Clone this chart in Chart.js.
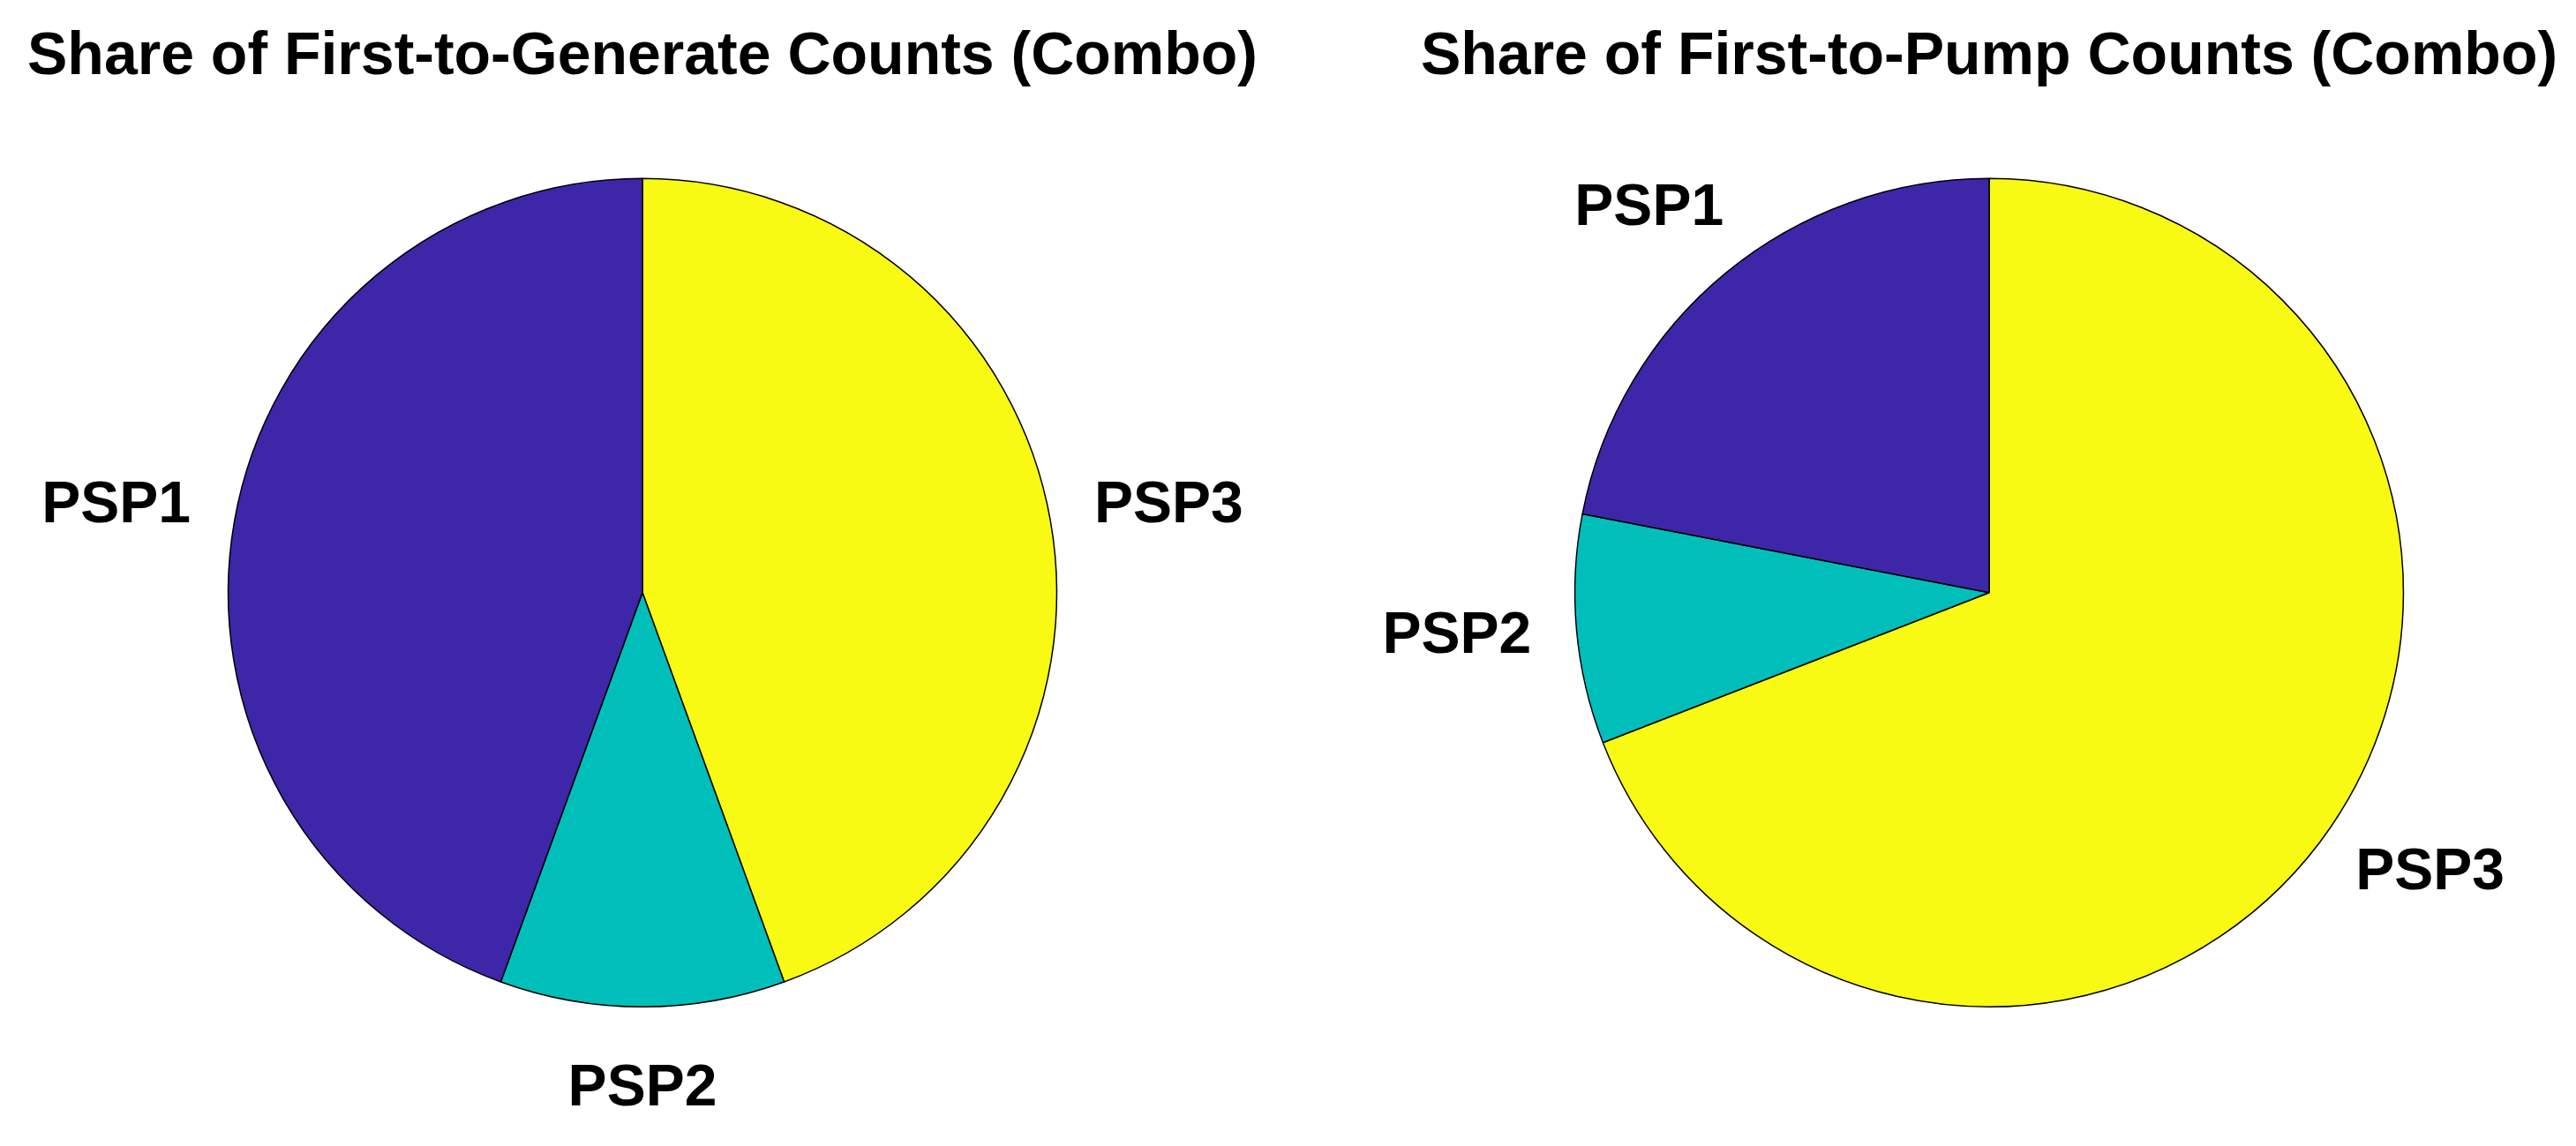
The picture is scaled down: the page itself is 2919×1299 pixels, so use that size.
<!DOCTYPE html>
<html>
<head>
<meta charset="utf-8">
<script src="https://cdn.jsdelivr.net/npm/chart.js@4.4.1/dist/chart.umd.min.js"></script>
<style>
    html, body { margin: 0; padding: 0; background: #ffffff; }
    body { width: 2919px; height: 1299px; position: relative; overflow: hidden; }
    canvas { position: absolute; top: 0; }
    #generateChart { left: 0px; }
    #pumpChart { left: 1460px; }
</style>
</head>
<body>
<canvas id="generateChart" width="1456" height="1299"></canvas>
<canvas id="pumpChart" width="1459" height="1299"></canvas>
<script>
const categories = ['PSP1', 'PSP2', 'PSP3'];
const generateCounts = [4, 1, 4];
const pumpCounts = [27, 11, 85];
const titles = ['Share of First-to-Generate Counts (Combo)', 'Share of First-to-Pump Counts (Combo)'];

// parula colours, as matlab gives them
const sliceColors = ['rgb(62, 38, 168)', 'rgb(0, 191, 186)', 'rgb(249, 250, 20)'];

// matlab goes counter clockwise, chart.js clockwise -> flip the order
const flip = (arr) => arr.slice().reverse();

// draws the PSPx names outside of each slice
const outsideLabels = {
    id: 'outsideLabels',
    afterDatasetsDraw(chart) {
        const ctx = chart.ctx;
        const meta = chart.getDatasetMeta(0);
        ctx.save();
        ctx.font = 'bold 66px "Liberation Sans", Arial, sans-serif';
        ctx.fillStyle = '#000000';
        ctx.textAlign = 'center';
        ctx.textBaseline = 'middle';
        meta.data.forEach((arc, i) => {
            const p = arc.getProps(['x', 'y', 'startAngle', 'endAngle', 'outerRadius'], true);
            const mid = (p.startAngle + p.endAngle) / 2;
            const text = chart.data.labels[i];
            const halfW = ctx.measureText(text).width / 2;
            const tx = p.x + Math.cos(mid) * p.outerRadius * 1.2 + Math.cos(mid) * halfW * 0.5;
            const ty = p.y + Math.sin(mid) * p.outerRadius * 1.2;
            ctx.fillText(text, tx, ty);
        });
        ctx.restore();
    }
};

function makePie(canvasId, counts, title, padLeft) {
    const data = {
        labels: flip(categories),
        datasets: [{
            data: flip(counts),
            backgroundColor: flip(sliceColors),
            borderColor: '#000000',
            borderWidth: 1.5,
            borderAlign: 'center'
        }]
    };

    const config = {
        type: 'pie',
        data: data,
        options: {
            responsive: false,
            animation: false,
            devicePixelRatio: 1,
            rotation: 0,
            layout: {
                padding: { top: 0, bottom: 157, left: padLeft, right: 0 }
            },
            plugins: {
                legend: { display: false },
                tooltip: { enabled: false },
                title: {
                    display: true,
                    text: title,
                    color: '#000000',
                    font: { family: '"Liberation Sans", Arial, sans-serif', size: 68, weight: 'bold', lineHeight: 1.2 },
                    padding: { top: 24, bottom: 96 }
                }
            }
        },
        plugins: [outsideLabels]
    };

    return new Chart(document.getElementById(canvasId).getContext('2d'), config);
}

makePie('generateChart', generateCounts, titles[0], 0);
makePie('pumpChart', pumpCounts, titles[1], 129);
</script>
</body>
</html>
